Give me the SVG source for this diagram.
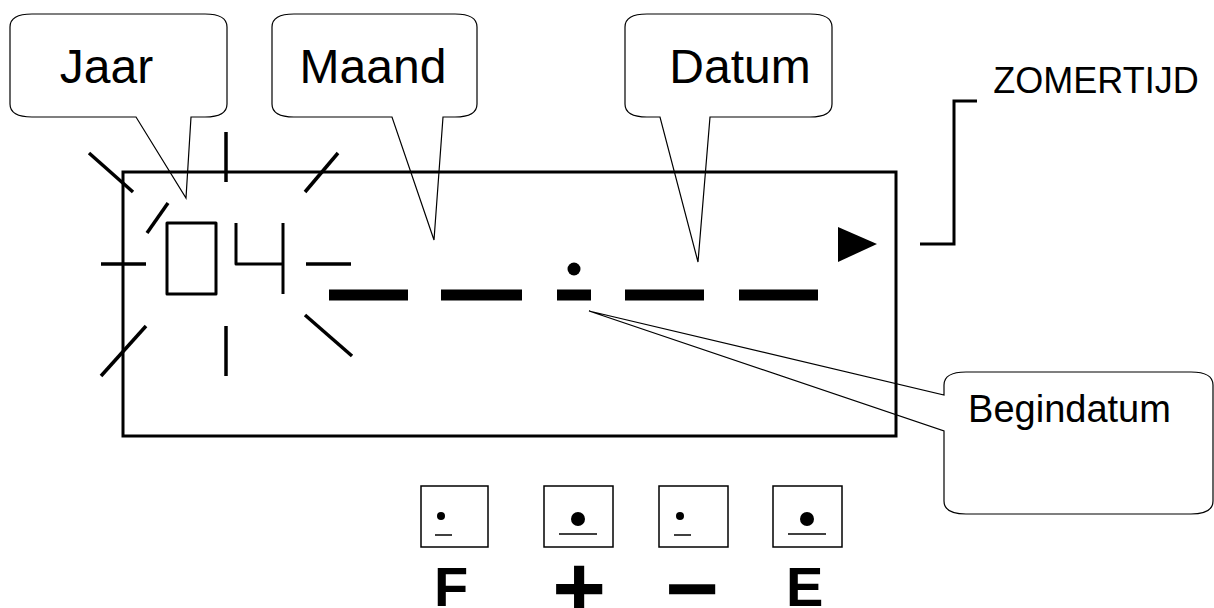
<svg xmlns="http://www.w3.org/2000/svg" width="1214" height="608" viewBox="0 0 1214 608">
<style>
.callout{fill:none;stroke:#000;stroke-width:1.2;stroke-linejoin:miter}
.lbl{font-family:"Liberation Sans",Arial,sans-serif;fill:#000}
.ray{stroke:#000;stroke-width:3.5;fill:none;stroke-linecap:butt}
.seg{stroke:#000;stroke-width:3;fill:none;stroke-linejoin:round;stroke-linecap:butt}
.thick{stroke:#000;stroke-width:3;fill:none}
.dash{fill:#000}
.btn{fill:#fff;stroke:#000;stroke-width:1.5}
.key{font-family:"Liberation Sans",Arial,sans-serif;font-weight:bold;fill:#000}
</style>
<rect width="1214" height="608" fill="#fff"/>

<g id="display">
  <rect x="123" y="172" width="773" height="264" class="thick"/>
  <polygon points="838,227 877,244 838,262" fill="#000"/>
</g>

<g id="digits">
  <rect x="167" y="223" width="49" height="71" class="seg"/>
  <polyline points="236,223 236,264 283,264" class="seg"/>
  <line x1="283" y1="223" x2="283" y2="294" class="seg"/>
</g>

<g id="rays">
  <line x1="89" y1="153" x2="133" y2="192" class="ray"/>
  <line x1="226" y1="132" x2="226" y2="182" class="ray"/>
  <line x1="338" y1="153" x2="305" y2="192" class="ray"/>
  <line x1="168" y1="203" x2="147" y2="233" class="ray"/>
  <line x1="101" y1="264" x2="146" y2="264" class="ray"/>
  <line x1="306" y1="264" x2="351" y2="264" class="ray"/>
  <line x1="146" y1="326" x2="101" y2="376" class="ray"/>
  <line x1="226" y1="326" x2="226" y2="376" class="ray"/>
  <line x1="305" y1="315" x2="352" y2="356" class="ray"/>
</g>

<g id="dashes">
  <rect x="329" y="289.5" width="79" height="11" class="dash"/>
  <rect x="441" y="289.5" width="81" height="11" class="dash"/>
  <rect x="557" y="289.5" width="34" height="11" class="dash"/>
  <rect x="625" y="289.5" width="79" height="11" class="dash"/>
  <rect x="739" y="289.5" width="79" height="11" class="dash"/>
  <circle cx="574" cy="269" r="6.5" fill="#000"/>
</g>

<g id="zomertijd">
  <polyline points="977,101 954,101 954,244 920,244" class="thick"/>
  <text x="1096" y="93" font-size="36" text-anchor="middle" class="lbl">ZOMERTIJD</text>
</g>

<g id="connectors">
  <path class="callout" d="M 32,14 L 205,14 Q 227,14 227,27 L 227,104 Q 227,117 205,117 L 191,117 L 186,198 L 136,117 L 32,117 Q 10,117 10,104 L 10,27 Q 10,14 32,14 Z"/>
  <path class="callout" d="M 294,14 L 455,14 Q 477,14 477,27 L 477,104 Q 477,117 455,117 L 443,117 L 434,240 L 392,117 L 294,117 Q 272,117 272,104 L 272,27 Q 272,14 294,14 Z"/>
  <path class="callout" d="M 647,14 L 810,14 Q 832,14 832,27 L 832,104 Q 832,117 810,117 L 710,117 L 698,262 L 660,117 L 647,117 Q 625,117 625,104 L 625,27 Q 625,14 647,14 Z"/>
  <path class="callout" d="M 966,372 L 1191,372 Q 1213,372 1213,385 L 1213,501 Q 1213,514 1191,514 L 966,514 Q 944,514 944,501 L 944,431 L 589,311 L 944,395 L 944,385 Q 944,372 966,372 Z"/>
</g>

<g id="jaar">
  <text x="106.5" y="83" font-size="48" text-anchor="middle" class="lbl">Jaar</text>
</g>
<g id="maand">
  <text x="373" y="83" font-size="48" text-anchor="middle" class="lbl">Maand</text>
</g>
<g id="datum">
  <text x="740" y="83" font-size="48" text-anchor="middle" class="lbl">Datum</text>
</g>
<g id="begindatum">
  <text x="1069.5" y="422" font-size="38" text-anchor="middle" class="lbl">Begindatum</text>
</g>

<g id="btn-f">
  <rect x="421" y="486" width="67" height="61" class="btn"/>
  <circle cx="441" cy="516" r="4" fill="#000"/>
  <line x1="435" y1="535" x2="452" y2="535" stroke="#000" stroke-width="1.5"/>
  <text x="434" y="606" font-size="56" class="key">F</text>
</g>
<g id="btn-plus">
  <rect x="544" y="486" width="69" height="61" class="btn"/>
  <circle cx="578" cy="519" r="7" fill="#000"/>
  <line x1="559" y1="534" x2="597" y2="534" stroke="#000" stroke-width="1.5"/>
  <text x="579" y="620" font-size="92" text-anchor="middle" class="key">+</text>
</g>
<g id="btn-minus">
  <rect x="659" y="486" width="69" height="61" class="btn"/>
  <circle cx="680" cy="516" r="4" fill="#000"/>
  <line x1="674" y1="535" x2="691" y2="535" stroke="#000" stroke-width="1.5"/>
  <text x="692" y="620" font-size="92" text-anchor="middle" class="key">−</text>
</g>
<g id="btn-e">
  <rect x="773" y="486" width="69" height="61" class="btn"/>
  <circle cx="807" cy="519" r="7" fill="#000"/>
  <line x1="788" y1="534" x2="826" y2="534" stroke="#000" stroke-width="1.5"/>
  <text x="786" y="606" font-size="56" class="key">E</text>
</g>
</svg>
